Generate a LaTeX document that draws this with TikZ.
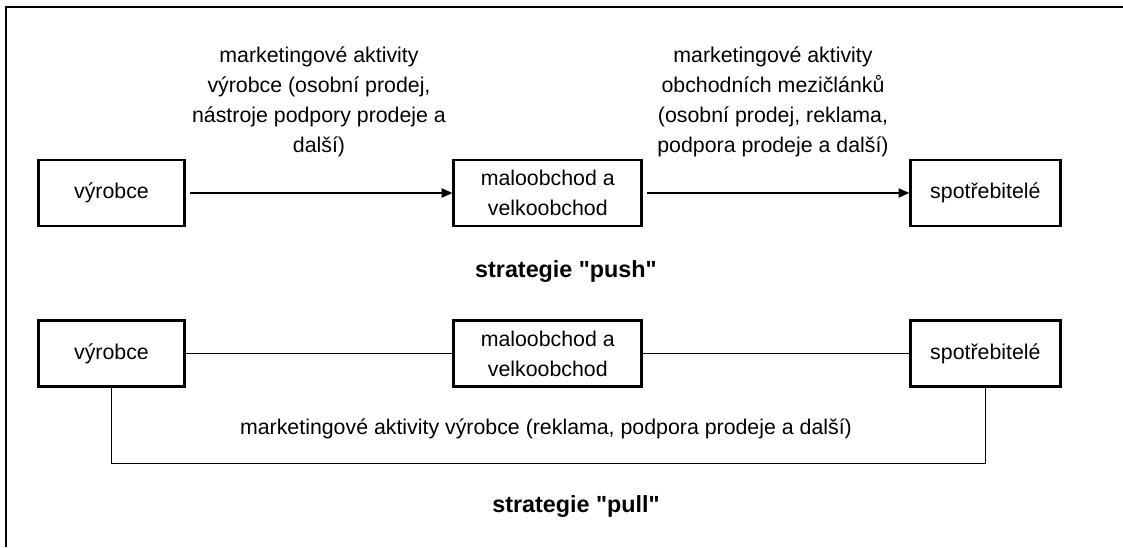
\documentclass[tikz,border=0pt]{standalone}
\usepackage{fontspec}
\setmainfont{Liberation Sans}[Ligatures=TeXOff]
\usepackage{tikz}
\usetikzlibrary{arrows.meta, positioning}

\begin{document}
\begin{tikzpicture}[
    x=0.75pt, y=-0.75pt,
    node distance=69pt and 199.5pt,
    box/.style={rectangle, draw, line width=2.2pt, minimum height=49.5pt, inner sep=2pt, align=center, font=\fontsize{16}{22}\selectfont},
    note/.style={align=center, font=\fontsize{16}{22.5}\selectfont},
    title/.style={font=\fontsize{17.5}{20}\selectfont\bfseries},
    arrow/.style={-{Triangle[length=8pt, width=7pt]}, line width=0.8pt},
    link/.style={line width=0.8pt},
]
\useasboundingbox (0,0) rectangle (1123,547);
% frame
\draw[line width=1pt] (6,547) -- (6,7) -- (1123,7);

% push
\node[box, minimum width=110pt] (vyr1) at (111.5,193) {výrobce};
\node[box, minimum width=141pt, right=of vyr1] (mal1) {maloobchod a\\velkoobchod};
\node[box, minimum width=112pt, right=of mal1] (spot1) {spotřebitelé};
\node[note] (akt1) at (319,102) {marketingové aktivity\\výrobce (osobní prodej,\\nástroje podpory prodeje a\\další)};
\node[note] (akt2) at (773,102) {marketingové aktivity\\obchodních mezičlánků\\(osobní prodej, reklama,\\podpora prodeje a další)};
\node[title] (push) at (566,272) {strategie "push"};
\draw[arrow] ([xshift=3pt]vyr1.east) -- (mal1);
\draw[arrow] ([xshift=3pt]mal1.east) -- (spot1);

% pull
\node[box, minimum width=110pt, below=of vyr1] (vyr2) {výrobce};
\node[box, minimum width=141pt, below=of mal1] (mal2) {maloobchod a\\velkoobchod};
\node[box, minimum width=112pt, below=of spot1] (spot2) {spotřebitelé};
\draw[link] (vyr2) -- (mal2);
\draw[link] (mal2) -- (spot2);
\draw[link] (vyr2.south) -- ++(0,75) -| (spot2.south);
\node[note] (akt3) at (546,429) {marketingové aktivity výrobce (reklama, podpora prodeje a další)};
\node[title] (pull) at (576,507) {strategie "pull"};
\end{tikzpicture}
\end{document}
